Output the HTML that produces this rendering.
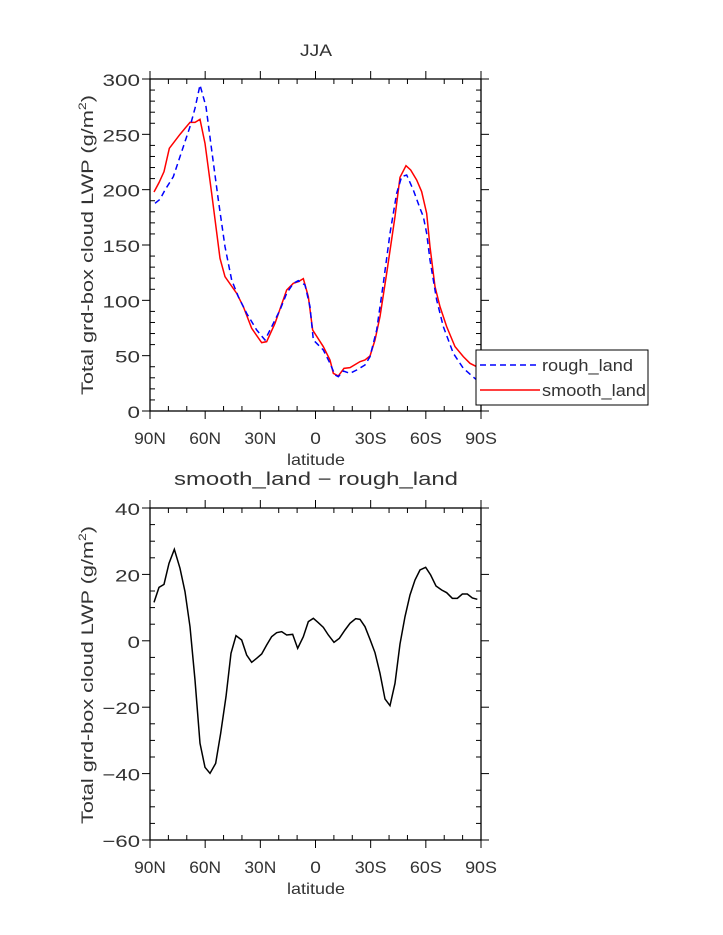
<!DOCTYPE html>
<html><head><meta charset="utf-8"><style>
html,body{margin:0;padding:0;background:#fff}
svg{display:block}
text{font-family:"Liberation Sans",sans-serif;fill:#333}
</style></head><body>
<svg id="s" width="723" height="935" viewBox="0 0 723 935" xmlns="http://www.w3.org/2000/svg">
<text x="316" y="56" font-size="17" text-anchor="middle" textLength="32" lengthAdjust="spacingAndGlyphs">JJA</text>
<text x="316" y="485" font-size="18" text-anchor="middle" textLength="284" lengthAdjust="spacingAndGlyphs">smooth_land − rough_land</text>
<text x="316" y="465" font-size="16" text-anchor="middle" textLength="58" lengthAdjust="spacingAndGlyphs">latitude</text>
<text x="316" y="894" font-size="16" text-anchor="middle" textLength="58" lengthAdjust="spacingAndGlyphs">latitude</text>
<text transform="translate(93,245) rotate(-90)" font-size="17" text-anchor="middle" textLength="300" lengthAdjust="spacingAndGlyphs">Total grd-box cloud LWP (g/m<tspan font-size="11" dy="-7">2</tspan><tspan dy="7">)</tspan></text>
<text transform="translate(93,675) rotate(-90)" font-size="17" text-anchor="middle" textLength="298" lengthAdjust="spacingAndGlyphs">Total grd-box cloud LWP (g/m<tspan font-size="11" dy="-7">2</tspan><tspan dy="7">)</tspan></text>
<g id="ax"></g>
<g transform="translate(90,40) scale(0.33333)" fill="none">
<polyline vector-effect="non-scaling-stroke" stroke="#f00" stroke-width="1.5" points="192,456 207,428 222,395 238,325 270,283 300,247 315,247 330,238 345,310 365,460 390,655 405,710 440,760 460,800 485,865 515,908 530,905 555,850 590,750 610,730 625,725 640,716 655,770 668,870 700,920 720,960 730,1000 745,1008 762,985 780,983 810,965 825,960 840,948 855,900 870,830 890,700 915,530 930,412 948,377 962,390 980,420 995,455 1010,520 1020,620 1035,740 1050,800 1070,860 1095,920 1120,950 1140,970 1160,980"/>
<polyline vector-effect="non-scaling-stroke" stroke="#00f" stroke-width="1.5" stroke-dasharray="6,4" points="195,490 210,478 225,450 250,410 270,350 300,260 315,205 330,135 348,200 365,330 385,480 405,620 425,720 445,770 470,820 500,870 525,900 545,860 570,810 590,760 610,730 625,722 645,735 660,800 670,900 700,930 720,970 735,1005 745,1010 760,993 780,1000 800,990 825,975 840,950 860,870 880,730 900,580 920,460 935,410 950,405 970,450 990,505 1000,530 1010,580 1020,660 1040,780 1060,860 1090,940 1120,985 1160,1020"/>
</g>
<g transform="translate(90,480) scale(0.33333)" fill="none">
<polyline vector-effect="non-scaling-stroke" stroke="#000" stroke-width="1.5" points="192,367 207,322 222,313 237,250 253,208 270,265 285,335 300,440 315,600 330,790 345,862 360,880 377,850 392,760 408,650 423,520 438,467 455,480 470,525 485,547 500,535 515,522 530,495 545,470 560,458 575,455 590,465 608,463 623,505 640,470 655,425 670,415 685,428 700,442 715,465 732,487 748,475 765,450 780,430 797,416 810,418 825,440 840,478 855,518 870,580 885,657 900,677 915,610 930,492 945,410 960,345 975,300 990,270 1007,262 1022,285 1038,318 1055,330 1070,338 1087,355 1102,355 1117,342 1132,342 1147,354 1162,358"/>
</g>
<rect x="476" y="350" width="172" height="55" fill="#fff" stroke="#000" stroke-width="1"/>
<line x1="480" y1="365" x2="540" y2="365" stroke="#00f" stroke-width="1.5" stroke-dasharray="6,4"/>
<line x1="480" y1="390" x2="540" y2="390" stroke="#f00" stroke-width="1.5"/>
<text x="542" y="371" font-size="17" textLength="91" lengthAdjust="spacingAndGlyphs">rough_land</text>
<text x="542" y="396" font-size="17" textLength="104" lengthAdjust="spacingAndGlyphs">smooth_land</text>
</svg>
<script>
(function(){
var g=document.getElementById('ax'),h='';
function L(a,b,c,d){h+='<line x1="'+a+'" y1="'+b+'" x2="'+c+'" y2="'+d+'" stroke="#000" stroke-width="1"/>';}
function T(x,y,s,anc,n){h+='<text x="'+x+'" y="'+y+'" font-size="17" text-anchor="'+anc+'" textLength="'+(n*12.5)+'" lengthAdjust="spacingAndGlyphs">'+s+'</text>';}
function axes(x0,x1,y0,y1,ymin,ymax,maj,mn){
 h+='<rect x="'+x0+'" y="'+y0+'" width="'+(x1-x0)+'" height="'+(y1-y0)+'" fill="none" stroke="#000" stroke-width="1.3"/>';
 var xl=['90N','60N','30N','0','30S','60S','90S'];
 for(var d=0;d<=180;d+=10){var x=x0+(x1-x0)*d/180;
  if(d%30==0){L(x,y1,x,y1+8);L(x,y0,x,y0-8);var s=xl[d/30];T(x,y1+33,s,'middle',s.length*0.85);}
  else{L(x,y1,x,y1-5);L(x,y0,x,y0+5);}}
 for(var v=ymin;v<=ymax+1e-9;v+=mn){var y=y1-(y1-y0)*(v-ymin)/(ymax-ymin);
  if(Math.abs(v%maj)<1e-9){L(x0-8,y,x0,y);L(x1,y,x1+8,y);var s=(v<0?'\u2212'+(-v):''+v);T(x0-10,y+7,s,'end',s.length);}
  else{L(x0,y,x0+5,y);L(x1-5,y,x1,y);}}
}
axes(150,481,79,411,0,300,50,10);
axes(150,481,508,840,-60,40,20,5);
g.innerHTML=h;
})();
</script>
</body></html>
